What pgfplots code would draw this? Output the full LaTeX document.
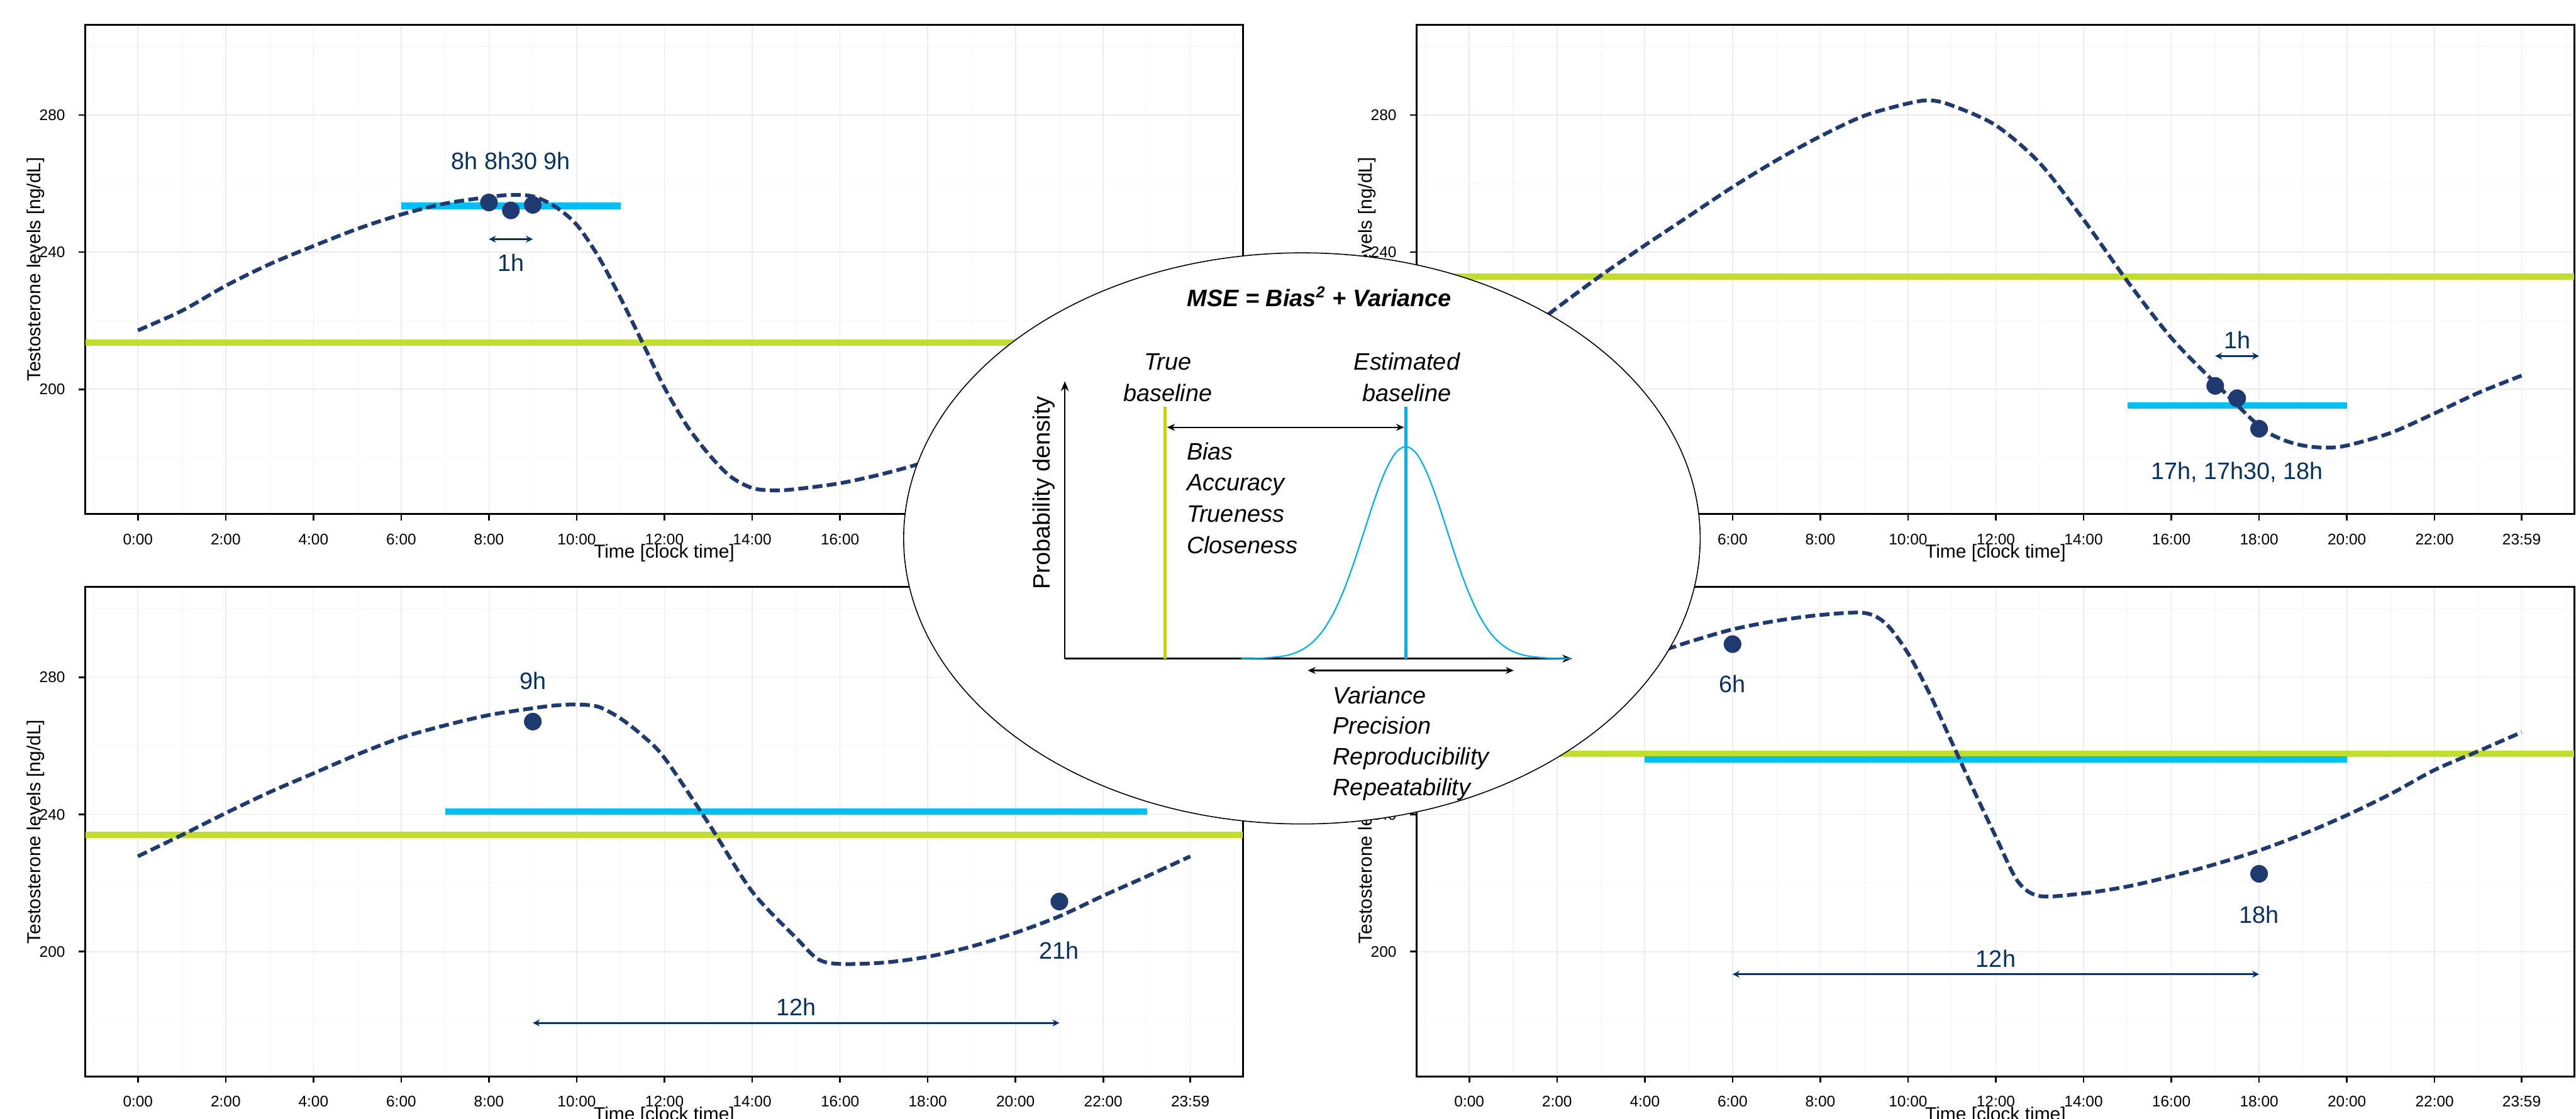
\documentclass[border=0pt]{standalone}
\usepackage{fontspec}
\setmainfont{Liberation Sans}
\usepackage{pgfplots}
\pgfplotsset{compat=1.18}
\usetikzlibrary{arrows.meta}
\definecolor{navy}{RGB}{31,58,112}
\definecolor{annot}{RGB}{8,49,99}
\definecolor{cyanb}{RGB}{0,191,243}
\definecolor{lime}{RGB}{192,221,48}
\definecolor{gridc}{RGB}{235,235,235}
\definecolor{gridm}{RGB}{246,246,246}
\definecolor{insetgreen}{RGB}{200,214,0}
\definecolor{insetcyan}{RGB}{0,180,235}
\tikzset{anno/.style={font=\fontsize{12}{14}\selectfont, text=annot},
  itl/.style={font=\fontsize{12}{14}\selectfont\itshape, anchor=base west, inner sep=0pt},
  itc/.style={font=\fontsize{12}{14}\selectfont\itshape, anchor=base, inner sep=0pt}}
\pgfplotsset{
  panel/.style={
    scale only axis, width=583.5pt, height=246.85pt,
    xmin=-1.199, xmax=25.182, ymin=163.6, ymax=306.4,
    xtick={0,2,4,6,8,10,12,14,16,18,20,22,23.983},
    xticklabels={0:00,2:00,4:00,6:00,8:00,10:00,12:00,14:00,16:00,18:00,20:00,22:00,23:59},
    ytick={200,240,280},
    minor xtick={-1,1,3,5,7,9,11,13,15,17,19,21,22.99,25},
    minor ytick={180,220,260,300},
    grid=both,
    major grid style={gridc, line width=0.55pt},
    minor grid style={gridm, line width=0.35pt},
    minor tick length=0pt,
    major tick length=3.25pt,
    tick align=outside, tick pos=left,
    tick style={black, line width=0.8pt},
    axis line style={black, line width=0.9pt},
    /pgf/number format/assume math mode=true,
    every tick label/.append style={font=\fontsize{7.75}{9}\selectfont},
    xticklabel style={yshift=-3.1pt},
    yticklabel style={xshift=-3.4pt},
    xlabel={Time [clock time]},
    ylabel={Testosterone levels [ng/dL]},
    xlabel style={at={(axis description cs:0.5,-0.080)}, anchor=center, font=\fontsize{9.5}{11}\selectfont},
    ylabel style={at={(axis description cs:-0.0428,0.5)}, anchor=center, font=\fontsize{9.5}{11}\selectfont},
    clip=true,
  },
  curve/.style={smooth, navy, line width=1.9pt, dash pattern=on 5pt off 2.2pt, no marks},
  gline/.style={lime, line width=3.25pt, no marks},
  blueb/.style={cyanb, line width=3.25pt, no marks},
  pts/.style={only marks, mark=*, mark size=4.25pt, navy, mark options={draw=navy, fill=navy}},
  harrow/.style={annot, line width=0.9pt, no marks, arrows={Stealth[length=3.5pt,width=3.5pt]-Stealth[length=3.5pt,width=3.5pt]}},
}
\begin{document}
\begin{tikzpicture}
\useasboundingbox (0pt,0pt) rectangle (1298.5pt,-564pt);
% ---------------- Panel A (top left)
\begin{axis}[panel, at={(43pt,-259.25pt)}, anchor=south west]
\addplot[gline] coordinates {(-1.199,213.6) (25.182,213.6)};
\addplot[blueb] coordinates {(6,253.5) (11,253.5)};
\addplot[curve] coordinates {(0,217.2)(1,222.9)(2,230.2)(3,236.5)(4,241.8)(5,246.8)(6,251.0)(7,254.2)(8,256.1)(8.5,256.7)(9,256.3)(9.5,253.4)(10,248)(10.5,238.6)(11,226.6)(11.5,213.6)(12,200.5)(12.5,189.6)(13,181.2)(13.5,174.6)(14,171.2)(14.5,170.5)(15,170.9)(16,172.6)(17,175.4)(18,179)(19,183.5)(20,188.7)(21,194.5)(22,201)(23,208.6)(23.983,217.2)};
\addplot[pts] coordinates {(8,254.5) (8.5,252.2) (9,253.8)};
\addplot[harrow] coordinates {(8,243.8) (9,243.8)};
\node[anno] at (axis cs:8.5,266.6) {8h 8h30 9h};
\node[anno] at (axis cs:8.5,236.9) {1h};
\end{axis}
% ---------------- Panel B (top right)
\begin{axis}[panel, at={(714.1pt,-259.25pt)}, anchor=south west]
\addplot[gline] coordinates {(-1.199,232.9) (25.182,232.9)};
\addplot[blueb] coordinates {(15,195.3) (20,195.3)};
\addplot[curve] coordinates {(0,204)(1,214)(2,223.8)(3,233.2)(4,242)(5,250.5)(6,259)(7,266.8)(8,273.8)(9,279.8)(10,283.4)(10.5,284.3)(11,282.8)(12,277)(13,266)(14,249.5)(15,231.5)(16,215)(17,201.8)(18,189.3)(18.5,185.5)(19,183.6)(19.5,183)(20,183.6)(21,187.3)(22,193)(23,199)(23.983,204)};
\addplot[pts] coordinates {(17,201.0) (17.5,197.4) (18,188.5)};
\addplot[harrow] coordinates {(17,209.7) (18,209.7)};
\node[anno] at (axis cs:17.5,214.4) {1h};
\node[anno] at (axis cs:17.5,175.8) {17h, 17h30, 18h};
\end{axis}
% ---------------- Panel C (bottom left)
\begin{axis}[panel, at={(43pt,-542.8pt)}, anchor=south west]
\addplot[gline] coordinates {(-1.199,234) (25.182,234)};
\addplot[blueb] coordinates {(7,240.9) (23,240.9)};
\addplot[curve] coordinates {(0,227.8)(1,234)(2,240.4)(3,246.5)(4,252)(5,257.5)(6,262.4)(7,266)(8,269)(9,271)(9.5,271.8)(10,272.1)(10.5,271.4)(11,268)(11.5,263)(12,256.5)(13,237.5)(14,217.5)(15,204)(15.5,197.8)(16,196.4)(17,196.8)(18,198.5)(19,201.5)(20,205.5)(21,210.3)(22,216.3)(23,222)(23.983,227.8)};
\addplot[pts] coordinates {(9,267.1) (21,214.6)};
\addplot[harrow] coordinates {(9,179.2) (21,179.2)};
\node[anno] at (axis cs:9,279) {9h};
\node[anno] at (axis cs:21,200.3) {21h};
\node[anno] at (axis cs:15,183.9) {12h};
\end{axis}
% ---------------- Panel D (bottom right)
\begin{axis}[panel, at={(714.1pt,-542.8pt)}, anchor=south west]
\addplot[gline] coordinates {(-1.199,257.7) (25.182,257.7)};
\addplot[blueb] coordinates {(4,256.1) (20,256.1)};
\addplot[curve] coordinates {(0,264)(1,270)(2,276)(3,281.3)(4,286)(5,290.3)(6,294)(7,296.5)(8,298.2)(9,298.8)(9.5,295.6)(10,287)(10.5,275)(11,261)(11.5,247)(12,233.5)(12.5,220.5)(13,216.2)(14,217)(15,219)(16,222)(17,225.5)(18,229.5)(19,234.3)(20,239.8)(21,246)(22,253)(23,258.5)(23.983,264)};
\addplot[pts] coordinates {(6,289.7) (18,222.7)};
\addplot[harrow] coordinates {(6,193.4) (18,193.4)};
\node[anno] at (axis cs:6,278) {6h};
\node[anno] at (axis cs:18,210.7) {18h};
\node[anno] at (axis cs:12,197.9) {12h};
\end{axis}
% ---------------- Inset (ellipse with schematic), coordinates in reference pixels
\begin{axis}[at={(0pt,0pt)}, anchor=north west, scale only axis, width=1298.5pt, height=564pt,
  xmin=0, xmax=5194, ymin=0, ymax=2256, y dir=reverse, hide axis, clip=false]
\draw[fill=white, line width=0.5pt] (axis cs:2625,1086) ellipse [x radius=200.75pt, y radius=144pt];
% axes of the schematic
\addplot[black, line width=0.8pt, no marks, arrows={-Stealth[length=5pt,width=4pt]}] coordinates {(2147,1328.5) (2147,768.9)};
\addplot[black, line width=0.8pt, no marks, arrows={-Stealth[length=5pt,width=4pt]}] coordinates {(2147,1328.5) (3170,1328.5)};
% density curve
\addplot[insetcyan, line width=0.7pt, smooth, no marks] coordinates {
(2502.4,1328.4)(2543.9,1327.6)(2585.4,1323.7)(2606.15,1318.7)(2626.9,1309.7)(2647.65,1294.4)(2668.4,1270.6)(2689.15,1235.9)(2709.9,1189.5)(2730.65,1132.6)(2751.4,1068.9)(2772.15,1005.4)(2792.9,950.8)(2813.65,913.7)(2834.4,900.5)(2855.15,913.7)(2875.9,950.8)(2896.65,1005.4)(2917.4,1068.9)(2938.15,1132.6)(2958.9,1189.5)(2979.65,1235.9)(3000.4,1270.6)(3021.15,1294.4)(3041.9,1309.7)(3062.65,1318.7)(3083.4,1323.7)(3124.9,1327.6)(3166.4,1328.4)};
% baselines
\addplot[insetgreen, line width=1.6pt, no marks] coordinates {(2349.3,820.7) (2349.3,1328.5)};
\addplot[insetcyan, line width=1.6pt, no marks] coordinates {(2834.4,820.7) (2834.4,1328.5)};
% arrows
\addplot[black, line width=0.8pt, no marks, arrows={Stealth[length=4pt,width=3.5pt]-Stealth[length=4pt,width=3.5pt]}] coordinates {(2353,862) (2831,862)};
\addplot[black, line width=0.8pt, no marks, arrows={Stealth[length=4pt,width=3.5pt]-Stealth[length=4pt,width=3.5pt]}] coordinates {(2636.6,1352.4) (3052,1352.4)};
% texts
\node[font=\fontsize{12}{14}\selectfont\bfseries\itshape, anchor=base, inner sep=0pt] at (axis cs:2660,618) {MSE = Bias\textsuperscript{2} + Variance};
\node[itc] at (axis cs:2354.6,746) {True};
\node[itc] at (axis cs:2354.6,810) {baseline};
\node[itc] at (axis cs:2836.5,746) {Estimated};
\node[itc] at (axis cs:2836.5,810) {baseline};
\node[itl] at (axis cs:2392,927) {Bias};
\node[itl] at (axis cs:2392,990) {Accuracy};
\node[itl] at (axis cs:2392,1053) {Trueness};
\node[itl] at (axis cs:2392,1116) {Closeness};
\node[itl] at (axis cs:2687,1419) {Variance};
\node[itl] at (axis cs:2687,1481) {Precision};
\node[itl] at (axis cs:2687,1543) {Reproducibility};
\node[itl] at (axis cs:2687,1605) {Repeatability};
\node[font=\fontsize{12}{14}\selectfont, rotate=90] at (axis cs:2105,994) {Probability density};
\end{axis}
\end{tikzpicture}
\end{document}
